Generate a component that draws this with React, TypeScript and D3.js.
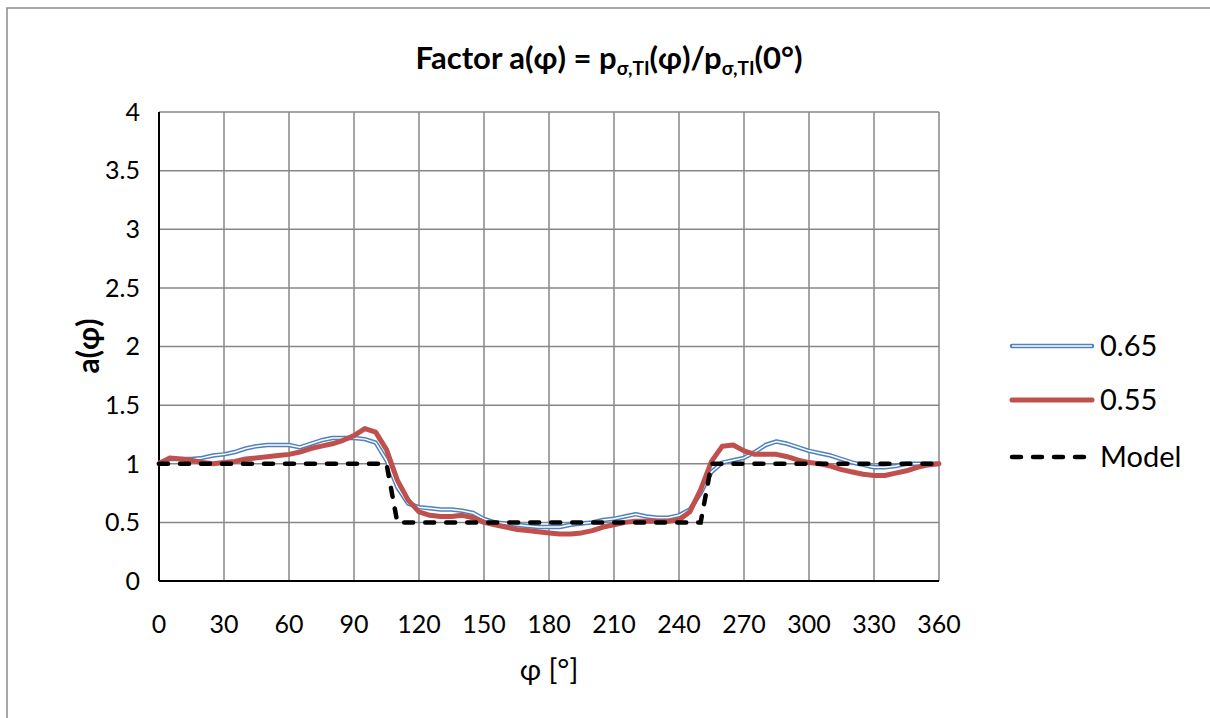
import React from "react";
import * as d3 from "d3";

const angles: number[] = d3.range(0, 361, 5);
const series065: number[] = [
  1.01, 1.04, 1.04, 1.04, 1.05, 1.07, 1.08, 1.10, 1.13, 1.15, 1.16, 1.16, 1.16, 1.14, 1.17, 1.20, 1.22, 1.22, 1.22,
  1.21, 1.18, 1.03, 0.80, 0.66, 0.63, 0.62, 0.61, 0.61, 0.60, 0.58, 0.53, 0.50, 0.49, 0.48, 0.47, 0.46, 0.46,
  0.46, 0.48, 0.49, 0.50, 0.52, 0.53, 0.55, 0.57, 0.55, 0.54, 0.54, 0.56, 0.61, 0.75, 0.93, 1.01, 1.03, 1.05,
  1.10, 1.16, 1.19, 1.17, 1.14, 1.11, 1.09, 1.07, 1.04, 1.01, 0.99, 0.97, 0.97, 0.98, 1.00, 1.00, 1.00, 1.00,
];
const series055: number[] = [
  1.00, 1.05, 1.04, 1.03, 1.01, 1.00, 1.01, 1.02, 1.04, 1.05, 1.06, 1.07, 1.08, 1.10, 1.13, 1.15, 1.17, 1.20, 1.24,
  1.30, 1.27, 1.12, 0.86, 0.69, 0.59, 0.56, 0.55, 0.55, 0.56, 0.54, 0.50, 0.48, 0.46, 0.44, 0.43, 0.42, 0.41,
  0.40, 0.40, 0.41, 0.43, 0.46, 0.48, 0.50, 0.51, 0.51, 0.51, 0.51, 0.52, 0.59, 0.78, 1.02, 1.15, 1.16, 1.11,
  1.08, 1.08, 1.08, 1.06, 1.03, 1.01, 1.00, 0.98, 0.95, 0.93, 0.91, 0.90, 0.90, 0.92, 0.94, 0.97, 0.99, 1.00,
];
const modelAngles: number[] = [0, 105, 110, 250, 255, 360];
const modelValues: number[] = [1, 1, 0.5, 0.5, 1, 1];
const xTicks: number[] = d3.range(0, 361, 30);
const yTicks: number[] = [0, 0.5, 1, 1.5, 2, 2.5, 3, 3.5, 4];
const legendLabels: string[] = ["0.65", "0.55", "Model"];

const FONT = "Lato, 'Open Sans', sans-serif";

export default function App() {
  const x = d3.scaleLinear().domain([0, 360]).range([159, 939]);
  const y = d3.scaleLinear().domain([0, 4]).range([581, 112]);
  const line = d3
    .line<[number, number]>()
    .x((d) => x(d[0]))
    .y((d) => y(d[1]));
  const d065 = line(angles.map((a, i) => [a, series065[i]]))!;
  const d055 = line(angles.map((a, i) => [a, series055[i]]))!;
  const dModel = line(modelAngles.map((a, i) => [a, modelValues[i]]))!;
  const blue = "#4f81bd";
  const red = "#c0504d";
  const legendY = [346, 400, 457];

  return (
    <svg width={1210} height={718} style={{ position: "absolute", left: 0, top: 0, background: "#fff" }}>
      <rect x={0} y={0} width={1210} height={718} fill="#fff" />
      <rect x={7} y={8} width={1220} height={730} fill="#fff" stroke="#8a8a8a" strokeWidth={1.5} />
      {/* grid */}
      {xTicks.map((t) => (
        <line key={"gx" + t} x1={x(t)} x2={x(t)} y1={y(0)} y2={y(4)} stroke="#878787" strokeWidth={1.5} />
      ))}
      {yTicks.map((t) => (
        <line key={"gy" + t} x1={x(0)} x2={x(360)} y1={y(t)} y2={y(t)} stroke="#878787" strokeWidth={1.5} />
      ))}
      {/* axes */}
      <line x1={x(0)} x2={x(0)} y1={y(0)} y2={y(4)} stroke="#000" strokeWidth={2} />
      <line x1={x(0)} x2={x(360)} y1={y(0)} y2={y(0)} stroke="#000" strokeWidth={2} />
      {/* tick labels */}
      {yTicks.map((t) => (
        <text key={"ty" + t} x={140} y={y(t)} dy="0.35em" textAnchor="end" fontFamily={FONT} fontSize={25} fill="#000">
          {String(t)}
        </text>
      ))}
      {xTicks.map((t) => (
        <text key={"tx" + t} x={x(t)} y={633} textAnchor="middle" fontFamily={FONT} fontSize={25} fill="#000">
          {String(t)}
        </text>
      ))}
      {/* series */}
      <path d={d065} fill="none" stroke={blue} strokeWidth={4.5} strokeLinejoin="round" />
      <path d={d065} fill="none" stroke="#fff" strokeWidth={1.5} strokeLinejoin="round" />
      <path d={d055} fill="none" stroke={red} strokeWidth={5} strokeLinejoin="round" strokeLinecap="round" />
      <path d={dModel} fill="none" stroke="#000" strokeWidth={4.5} strokeDasharray="9 12" strokeLinecap="round" />
      {/* title */}
      <text x={609} y={69} textAnchor="middle" fontFamily={FONT} fontWeight="bold" fontSize={31} fill="#000">
        <tspan>Factor a(φ) = p</tspan>
        <tspan fontSize={19} dy={6}>σ,TI</tspan>
        <tspan dy={-6}>(φ)/p</tspan>
        <tspan fontSize={19} dy={6}>σ,TI</tspan>
        <tspan dy={-6}>(0°)</tspan>
      </text>
      {/* axis titles */}
      <text x={549} y={680} textAnchor="middle" fontFamily={FONT} fontSize={29} fill="#000">
        φ [°]
      </text>
      <text
        transform="translate(99,346) rotate(-90)"
        textAnchor="middle"
        fontFamily={FONT}
        fontWeight="bold"
        fontSize={30}
        fill="#000"
      >
        a(φ)
      </text>
      {/* legend */}
      <g>
        <line x1={1012} x2={1092} y1={legendY[0]} y2={legendY[0]} stroke={blue} strokeWidth={4.5} strokeLinecap="round" />
        <line x1={1012} x2={1092} y1={legendY[0]} y2={legendY[0]} stroke="#fff" strokeWidth={1.5} />
        <line x1={1012} x2={1092} y1={legendY[1]} y2={legendY[1]} stroke={red} strokeWidth={5} strokeLinecap="round" />
        <line
          x1={1012}
          x2={1092}
          y1={legendY[2]}
          y2={legendY[2]}
          stroke="#000"
          strokeWidth={4.5}
          strokeDasharray="9 12"
          strokeLinecap="round"
        />
        {legendLabels.map((l, i) => (
          <text key={l} x={1100} y={legendY[i]} dy="0.36em" fontFamily={FONT} fontSize={29} fill="#000">
            {l}
          </text>
        ))}
      </g>
    </svg>
  );
}
